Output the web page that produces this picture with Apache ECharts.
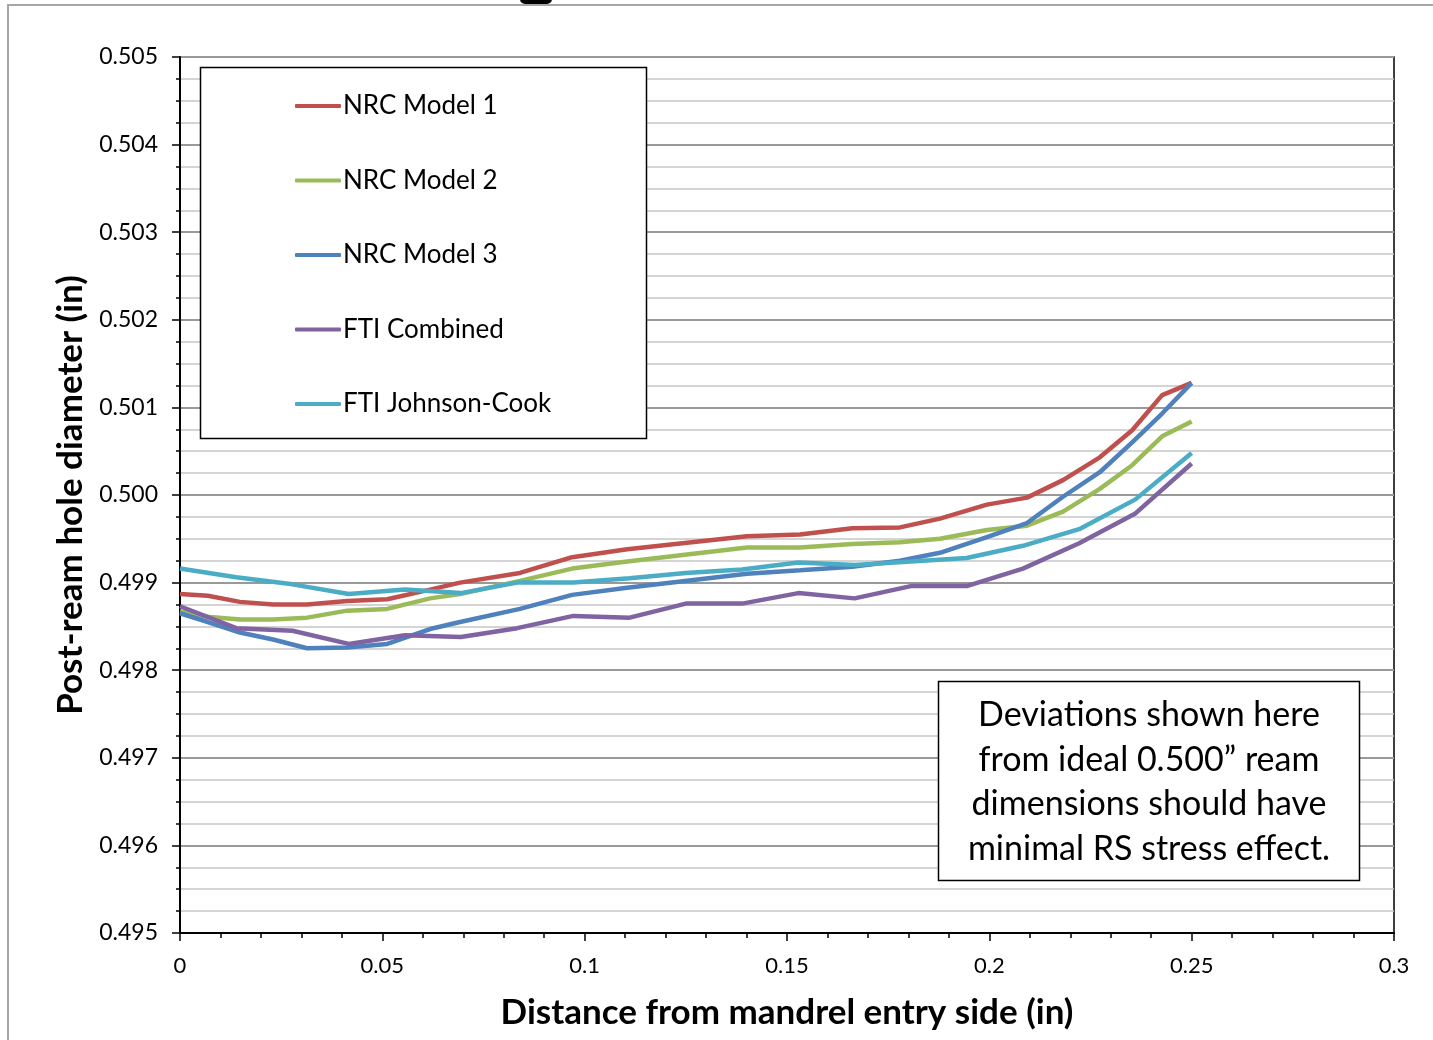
<!DOCTYPE html>
<html>
<head>
<meta charset="utf-8">
<script src="https://cdn.jsdelivr.net/npm/echarts@6/dist/echarts.min.js"></script>
<style>
  html, body { margin: 0; padding: 0; background: #fff; }
  #chart { width: 1433px; height: 1040px; }
</style>
</head>
<body>
<div id="chart"></div>
<script>
// x positions (in) of the NRC model nodes
var nrcX = [0, 0.0069, 0.0148, 0.023, 0.0314, 0.0413, 0.0512, 0.0618, 0.0692, 0.084, 0.0969, 0.1105,
    0.1401, 0.1532, 0.1661, 0.1779, 0.1878, 0.1994, 0.2093, 0.2182, 0.2273, 0.2353, 0.2427, 0.25];
var nrcModel1 = [0.49887, 0.49885, 0.49878, 0.49875, 0.49875, 0.49879, 0.49881, 0.49892, 0.49900, 0.49911, 0.49929, 0.49938,
    0.49953, 0.49955, 0.49962, 0.49963, 0.49973, 0.49989, 0.49997, 0.50017, 0.50043, 0.50074, 0.50114, 0.50128];
var nrcModel2 = [0.49867, 0.49861, 0.49858, 0.49858, 0.49860, 0.49868, 0.49870, 0.49882, 0.49887, 0.49902, 0.49916, 0.49924,
    0.49940, 0.49940, 0.49944, 0.49946, 0.49950, 0.49960, 0.49965, 0.49981, 0.50007, 0.50034, 0.50067, 0.50084];
var nrcModel3 = [0.49865, 0.49855, 0.49843, 0.49835, 0.49825, 0.49826, 0.49830, 0.49847, 0.49855, 0.49870, 0.49886, 0.49894,
    0.49910, 0.49914, 0.49918, 0.49925, 0.49934, 0.49952, 0.49968, 0.49998, 0.50026, 0.50060, 0.50093, 0.50128];

// FTI results, 19 nodes over 0 .. 0.25 in
var ftiX = [0, 0.0139, 0.0278, 0.0417, 0.0556, 0.0694, 0.0833, 0.0972, 0.1111, 0.125,
    0.1389, 0.1528, 0.1667, 0.1806, 0.1944, 0.2083, 0.2222, 0.2361, 0.25];
var ftiCombined = [0.49873, 0.49848, 0.49845, 0.49830, 0.49840, 0.49838, 0.49848, 0.49862, 0.49860, 0.49876,
    0.49876, 0.49888, 0.49882, 0.49896, 0.49896, 0.49916, 0.49945, 0.49979, 0.50036];
var ftiJohnsonCook = [0.49916, 0.49906, 0.49898, 0.49887, 0.49892, 0.49888, 0.49900, 0.49900, 0.49905, 0.49911,
    0.49915, 0.49923, 0.49920, 0.49924, 0.49928, 0.49942, 0.49961, 0.49995, 0.50048];

var xTickLabels = ['0', '0.05', '0.1', '0.15', '0.2', '0.25', '0.3'];
var yTickLabels = ['0.495', '0.496', '0.497', '0.498', '0.499', '0.500', '0.501', '0.502', '0.503', '0.504', '0.505'];

function pairs(xs, ys) {
    return xs.map(function (x, i) { return [x, ys[i]]; });
}

var myChart = echarts.init(document.getElementById('chart'));

var font = 'Lato, "Open Sans", sans-serif';

function lineSeries(name, color, xs, ys) {
    return {
        name: name,
        type: 'line',
        symbol: 'none',
        data: pairs(xs, ys),
        lineStyle: { color: color, width: 4.5 },
        itemStyle: { color: color },
        z: 3
    };
}

var option = {
    animation: false,
    backgroundColor: '#fff',
    grid: {
        left: 180, top: 57, right: 39, bottom: 107,
        show: true, borderColor: '#000', borderWidth: 1.5,
        backgroundColor: 'transparent'
    },
    legend: {
        orient: 'vertical',
        left: 290,
        top: 85,
        icon: 'roundRect',
        itemWidth: 46,
        itemHeight: 4,
        itemGap: 42.5,
        z: 10,
        textStyle: { fontFamily: font, fontSize: 26, color: '#000', lineHeight: 32, padding: [0, 0, 0, -3] },
        data: ['NRC Model 1', 'NRC Model 2', 'NRC Model 3', 'FTI Combined', 'FTI Johnson-Cook']
    },
    xAxis: {
        type: 'value',
        min: 0, max: 0.3, interval: 0.05,
        name: 'Distance from mandrel entry side (in)',
        nameLocation: 'middle',
        nameGap: 62,
        nameTextStyle: { fontFamily: font, fontSize: 35, fontWeight: 'bold', color: '#000' },
        axisLine: { show: true, onZero: false, lineStyle: { color: '#000', width: 2 } },
        axisTick: { show: true, length: 8, lineStyle: { color: '#000', width: 1.5 } },
        minorTick: { show: true, splitNumber: 5, length: 5, lineStyle: { color: '#000', width: 1.5 } },
        axisLabel: {
            margin: 22, fontFamily: font, fontSize: 22, color: '#000',
            formatter: function (v, i) { return xTickLabels[i]; }
        },
        splitLine: { show: false }
    },
    yAxis: {
        type: 'value',
        min: 0.495, max: 0.505, interval: 0.001,
        name: 'Post-ream hole diameter (in)',
        nameLocation: 'middle',
        nameGap: 90,
        nameTextStyle: { fontFamily: font, fontSize: 35, fontWeight: 'bold', color: '#000' },
        axisLine: { show: true, onZero: false, lineStyle: { color: '#000', width: 2 } },
        axisTick: { show: true, length: 8, lineStyle: { color: '#000', width: 1.5 } },
        minorTick: { show: true, splitNumber: 4, length: 4, lineStyle: { color: '#000', width: 1.5 } },
        axisLabel: {
            margin: 22, fontFamily: font, fontSize: 23, color: '#000',
            formatter: function (v, i) { return yTickLabels[i]; }
        },
        splitLine: { show: true, lineStyle: { color: '#999', width: 2 } },
        minorSplitLine: { show: true, lineStyle: { color: '#c6c6c6', width: 1.5 } }
    },
    graphic: [
        {
            type: 'rect', z: 0, silent: true,
            shape: { x: 8, y: 5, width: 1440, height: 1050 },
            style: { fill: 'none', stroke: '#a6a6a6', lineWidth: 2 }
        },
        {
            type: 'rect', z: 1, silent: true,
            shape: { x: 520, y: -8, width: 32, height: 12, r: 5 },
            style: { fill: '#000' }
        },
        {
            type: 'rect', z: 6, silent: true,
            shape: { x: 200.5, y: 67.5, width: 446, height: 371 },
            style: { fill: '#fff', stroke: '#000', lineWidth: 1.5 }
        },
        {
            type: 'rect', z: 6, silent: true,
            shape: { x: 938.5, y: 681.5, width: 421, height: 199 },
            style: { fill: '#fff', stroke: '#000', lineWidth: 1.5 }
        },
        {
            type: 'text', z: 7, silent: true,
            x: 1149, y: 782,
            style: {
                text: 'Deviations shown here\nfrom ideal 0.500\u201d ream\ndimensions should have\nminimal RS stress effect.',
                align: 'center',
                verticalAlign: 'middle',
                fontFamily: font, fontSize: 34, lineHeight: 44.5, fill: '#000'
            }
        }
    ],
    series: [
        lineSeries('NRC Model 1', '#C0504D', nrcX, nrcModel1),
        lineSeries('NRC Model 2', '#9BBB59', nrcX, nrcModel2),
        lineSeries('NRC Model 3', '#4F81BD', nrcX, nrcModel3),
        lineSeries('FTI Combined', '#8064A2', ftiX, ftiCombined),
        lineSeries('FTI Johnson-Cook', '#4BACC6', ftiX, ftiJohnsonCook)
    ]
};

myChart.setOption(option);
</script>
</body>
</html>
